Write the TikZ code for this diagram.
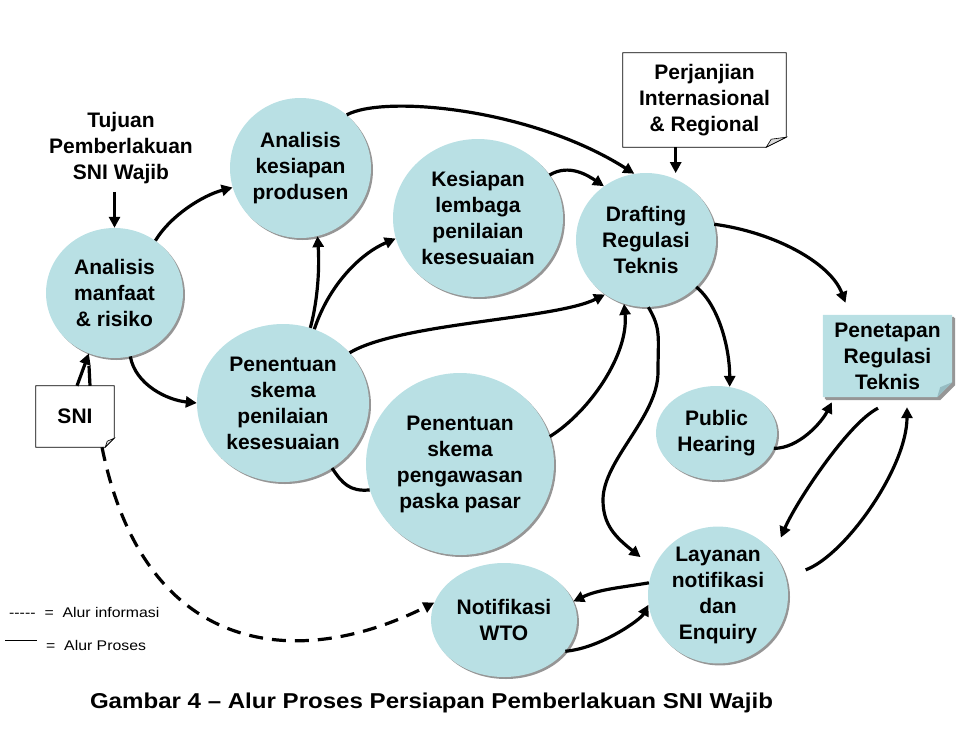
\documentclass[tikz,border=0pt]{standalone}
\usepackage{fontspec}
\setmainfont{Liberation Sans}
\usetikzlibrary{shapes.geometric,arrows.meta,shadows,backgrounds}
\definecolor{bub}{RGB}{185,224,228}
\definecolor{foldc}{RGB}{150,188,194}
\definecolor{shd}{RGB}{150,150,150}
\newcommand\nodefont{\fontsize{21}{26}\selectfont\bfseries}
\newcommand\legfont{\fontsize{14}{16}\selectfont}
\begin{document}
\begin{tikzpicture}[x=1pt,y=-1pt,
  bub/.style={ellipse, fill=bub, inner sep=0pt, align=center, font=\nodefont,
     drop shadow={shadow xshift=2pt, shadow yshift=-2pt, fill=shd, opacity=1}},
  txt/.style={align=center, font=\nodefont, inner sep=0pt},
  arr/.style={line width=3.2pt, -{Triangle[length=11pt,width=11pt]}},
  thk/.style={line width=3.2pt},
  dsh/.style={line width=3.2pt, dash pattern=on 14pt off 9pt, -{Triangle[length=11pt,width=11pt]}},
  docline/.style={draw=black, line width=0.8pt, fill=white},
]
\useasboundingbox (0,0) rectangle (959,742);

% bubbles
\node[bub, minimum width=137pt, minimum height=130pt] (am) at (114.5,293) {Analisis\\manfaat\\\& risiko};
\node[bub, minimum width=141pt, minimum height=140pt] (ak) at (300.5,168) {Analisis\\kesiapan\\produsen};
\node[bub, minimum width=170pt, minimum height=158pt] (kl) at (478,218) {Kesiapan\\lembaga\\penilaian\\kesesuaian};
\node[bub, minimum width=140pt, minimum height=134pt] (dr) at (646,240) {Drafting\\Regulasi\\Teknis};
\node[bub, minimum width=172pt, minimum height=158pt] (pk) at (283,403) {Penentuan\\skema\\penilaian\\kesesuaian};
\node[bub, minimum width=188pt, minimum height=182pt] (pp) at (460,464) {Penentuan\\skema\\pengawasan\\paska pasar};
\node[bub, minimum width=121pt, minimum height=94pt] (ph) at (716.5,433) {Public\\Hearing};
\node[bub, minimum width=140pt, minimum height=134pt] (ly) at (718,595) {Layanan\\notifikasi\\dan\\Enquiry};
\node[bub, minimum width=146pt, minimum height=114pt] (nw) at (504,620) {Notifikasi\\WTO};

% text-like nodes
\node[txt, minimum width=129pt, minimum height=82pt] (pe) at (887.5,356) {Penetapan\\Regulasi\\Teknis};
\node[txt, minimum width=78pt, minimum height=61pt] (sni) at (75,416.5) {SNI};
\node[txt, minimum width=163pt, minimum height=94pt] (pj) at (704.5,100) {Perjanjian\\Internasional\\\& Regional};
\node[txt] (tj) at (121,148) {Tujuan\\Pemberlakuan\\SNI Wajib};

\begin{scope}[on background layer]
  % Penetapan box with folded corner
  \fill[shd] ([shift={(3,3)}]pe.north west) -- ([shift={(3,3)}]pe.north east)
     -- ([shift={(3,-12)}]pe.south east) -- ([shift={(-12,3)}]pe.south east)
     -- ([shift={(3,3)}]pe.south west) -- cycle;
  \fill[bub] (pe.north west) -- (pe.north east) -- ([shift={(0,-15)}]pe.south east)
     -- ([shift={(-15,0)}]pe.south east) -- (pe.south west) -- cycle;
  \fill[foldc] ([shift={(0,-15)}]pe.south east) -- ([shift={(-15,0)}]pe.south east)
     -- ([shift={(-12,-10)}]pe.south east) -- cycle;
  % SNI document
  \filldraw[docline] (sni.north west) -- (sni.north east) -- ([shift={(0,-9)}]sni.south east)
     -- ([shift={(-9,0)}]sni.south east) -- (sni.south west) -- cycle;
  \filldraw[draw=black, line width=0.6pt, fill=gray!25] ([shift={(0,-9)}]sni.south east)
     -- ([shift={(-9,0)}]sni.south east) -- ([shift={(-7,-6)}]sni.south east) -- cycle;
  % Perjanjian document
  \filldraw[docline] (pj.north west) -- (pj.north east) -- ([shift={(0,-10)}]pj.south east)
     -- ([shift={(-20,0)}]pj.south east) -- (pj.south west) -- cycle;
  \filldraw[draw=black, line width=0.6pt, fill=gray!30] ([shift={(0,-10)}]pj.south east)
     -- ([shift={(-20,0)}]pj.south east) -- ([shift={(-15,-8)}]pj.south east) -- cycle;
\end{scope}

% connectors
\draw[arr, shorten <=8pt] (am.north |- tj.south) -- (am.north);
\draw[arr] ([shift={(2,0)}]sni.north) -- (am.-113);
\draw[thk] ([shift={(15,0)}]sni.north) -- ++(-1,-20);
\draw[arr] (am.52) .. controls +(15,-25) and +(-30,8) .. (ak.196);
\draw[arr] (am.-76) .. controls +(5,28) and +(-30,-3) .. (pk.180);
\draw[arr] (pk.70) .. controls +(8,-30) and +(2,30) .. (ak.-76);
\draw[arr] (pk.67) .. controls +(15,-45) and +(-35,15) .. (kl.194);
\draw[arr] (pk.37) .. controls +(50,-30) and +(-50,25) .. (dr.233);
\draw[thk] (pk.-53) .. controls +(10,15) and +(-20,2) .. (pp.196);
\draw[arr] (pp.17) .. controls +(40,-25) and +(5,50) .. (dr.251);
\draw[arr] (kl.31) .. controls +(20,-12) and +(-15,-10) .. (dr.128);
\draw[arr] (ak.49) .. controls +(37,-20) and +(-104,-66) .. (dr.100);
\draw[arr, shorten >=6pt] (pj.south -| dr.64) -- (dr.64);
\draw[arr] (dr.13) .. controls +(60,8) and +(-15,-40) .. ([shift={(-42,-12)}]pe.north);
\draw[arr] (dr.-43) .. controls +(22,18) and +(0,-40) .. (ph.74);
\draw[arr] (dr.-88) .. controls +(13,22) and +(0,-35) .. (658,372)
   .. controls +(0,45) and +(0,-40) .. (603,500)
   .. controls +(0,25) and +(-25,-20) .. ([shift={(-17,-3)}]ly.150);
\draw[arr] (ph.-15) .. controls +(25,0) and +(-10,20) .. ([shift={(9,5)}]pe.south west);
\draw[arr] ([shift={(-9.5,11)}]pe.south) .. controls +(-30,15) and +(15,-35) .. ([shift={(12,-10)}]ly.43);
\draw[arr] ([shift={(20,-7)}]ly.15) .. controls +(40,-15) and +(0,60) .. ([shift={(19.5,10)}]pe.south);
\draw[arr] (ly.170) .. controls +(-30,5) and +(25,-12) .. (nw.15);
\draw[arr] (nw.-27) .. controls +(35,-3) and +(-8,15) .. (ly.188);
\draw[dsh] ([shift={(27,0)}]sni.south) .. controls +(43,213) and +(-133,67) .. (nw.166);

% legend
\node[anchor=west, font=\legfont, inner sep=0pt] (lg1) at (9,612) {\scalebox{1.13}[1]{-{}-{}-{}-{}-\hspace{8pt}= \ Alur informasi}};
\draw[line width=0.8pt] (5,640) -- (37,640);
\node[anchor=west, font=\legfont, inner sep=0pt] (lg2) at (46,645) {\scalebox{1.13}[1]{= \ Alur Proses}};

% caption
\node[font=\fontsize{21.5}{24}\selectfont\bfseries, inner sep=0pt] (cap) at (431.5,703) {\scalebox{1.12}[1]{Gambar 4 – Alur Proses Persiapan Pemberlakuan SNI Wajib}};
\end{tikzpicture}
\end{document}
